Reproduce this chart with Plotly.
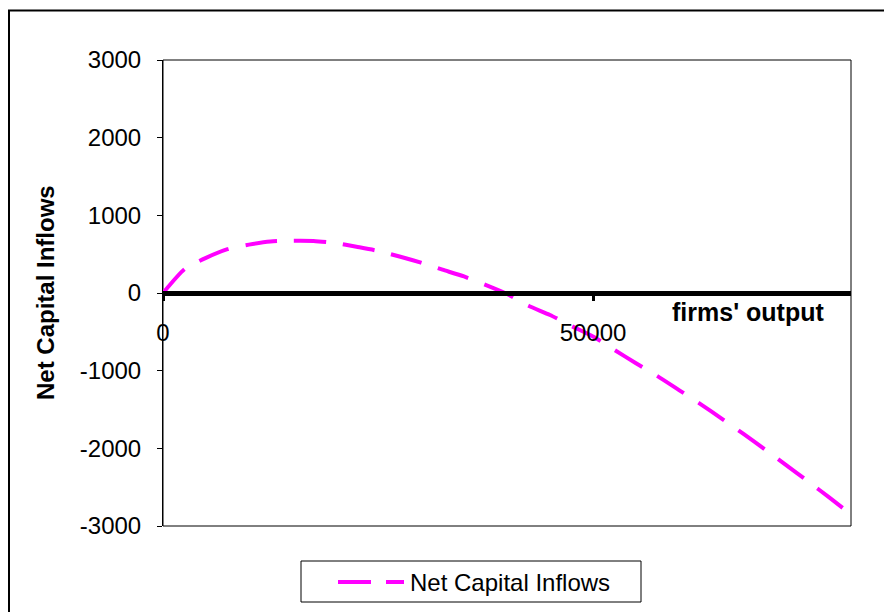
import plotly.graph_objects as go

# Data
output_x = [0, 2500, 5000, 7500, 10000, 12500, 15000, 17500, 20000, 22500, 25000,
            27500, 30000, 32500, 35000, 37500, 40000, 42500, 45000, 47500, 50000,
            52500, 55000, 57500, 60000, 62500, 65000, 67500, 70000, 72500, 75000,
            77500, 80000]
net_capital_inflows = [0, 307, 453, 565, 623, 664, 673, 671, 645, 595, 542,
                       470, 390, 300, 213, 105, -12, -165, -283, -425, -560,
                       -733, -905, -1070, -1250, -1430, -1620, -1815, -2015, -2220, -2425,
                       -2635, -2850]
series_name = "Net Capital Inflows"
y_title = "Net Capital Inflows"
x_title = "firms' output"
y_ticks = [-3000, -2000, -1000, 0, 1000, 2000, 3000]
x_ticks = [0, 50000]

W, H = 892, 612
OFF = 8  # page body margin in the browser
# plot area in screen pixels
L, R, T, B = 163, 851, 60, 526
pw, ph = R - L, B - T

def px(x):
    return (x - L) / pw

def py(y):
    return (B - y) / ph

MAG = "#FF00FF"
FONT = "Liberation Sans, Arial, sans-serif"
FS = 24

fig = go.Figure()
fig.add_trace(go.Scatter(
    x=output_x, y=net_capital_inflows, mode="lines", name=series_name,
    line=dict(color=MAG, width=4, dash="32px,17px", shape="spline", smoothing=0.6),
    showlegend=False,
))

fig.update_layout(
    width=W, height=H,
    margin=dict(l=L - OFF, r=W - (R - OFF), t=T - OFF, b=H - (B - OFF), pad=0),
    paper_bgcolor="white", plot_bgcolor="white",
    font=dict(family=FONT, size=FS, color="black"),
    xaxis=dict(
        range=[0, 80000], tickvals=x_ticks, ticktext=[str(v) for v in x_ticks],
        showgrid=False, zeroline=False,
        showline=True, linecolor="black", linewidth=5,
        anchor="free", position=0.5,
        ticks="outside", ticklen=5, tickwidth=3, tickcolor="black",
        ticklabelstandoff=11,
        tickfont=dict(size=FS),
    ),
    yaxis=dict(
        range=[-3000, 3000], tickvals=y_ticks, ticktext=[str(v) for v in y_ticks],
        showgrid=False, zeroline=False,
        showline=True, linecolor="black", linewidth=1,
        ticks="outside", ticklen=5, tickwidth=1, tickcolor="black",
        ticklabelstandoff=11,
        tickfont=dict(size=FS),
    ),
    showlegend=False,
)

shapes = []
# plot area border
shapes.append(dict(type="rect", xref="paper", yref="paper", x0=0, y0=0, x1=1, y1=1,
                   line=dict(color="black", width=1), layer="below"))
# outer chart frame
shapes.append(dict(type="rect", xref="paper", yref="paper",
                   x0=px(9), y0=py(660), x1=px(960), y1=py(10.5),
                   line=dict(color="black", width=2), layer="below"))
# legend box
shapes.append(dict(type="rect", xref="paper", yref="paper",
                   x0=px(301), y0=py(602), x1=px(641), y1=py(561),
                   line=dict(color="black", width=1), fillcolor="white", layer="above"))
# legend sample
shapes.append(dict(type="line", xref="paper", yref="paper",
                   x0=px(338), y0=py(582), x1=px(404), y1=py(582),
                   line=dict(color=MAG, width=4, dash="33px,15px")))
fig.update_layout(shapes=shapes)

fig.add_annotation(text=series_name, xref="paper", yref="paper",
                   x=px(408), y=py(582), xanchor="left", yanchor="middle",
                   showarrow=False, font=dict(size=FS))
fig.add_annotation(text="<b>" + x_title + "</b>", xref="paper", yref="paper",
                   x=px(826), y=py(312), xanchor="right", yanchor="middle",
                   showarrow=False, font=dict(size=25))
fig.add_annotation(text="<b>" + y_title + "</b>", xref="paper", yref="paper",
                   x=px(45), y=py(293), xanchor="center", yanchor="middle",
                   textangle=-90, showarrow=False, font=dict(size=FS))

fig.write_html("out.html")
